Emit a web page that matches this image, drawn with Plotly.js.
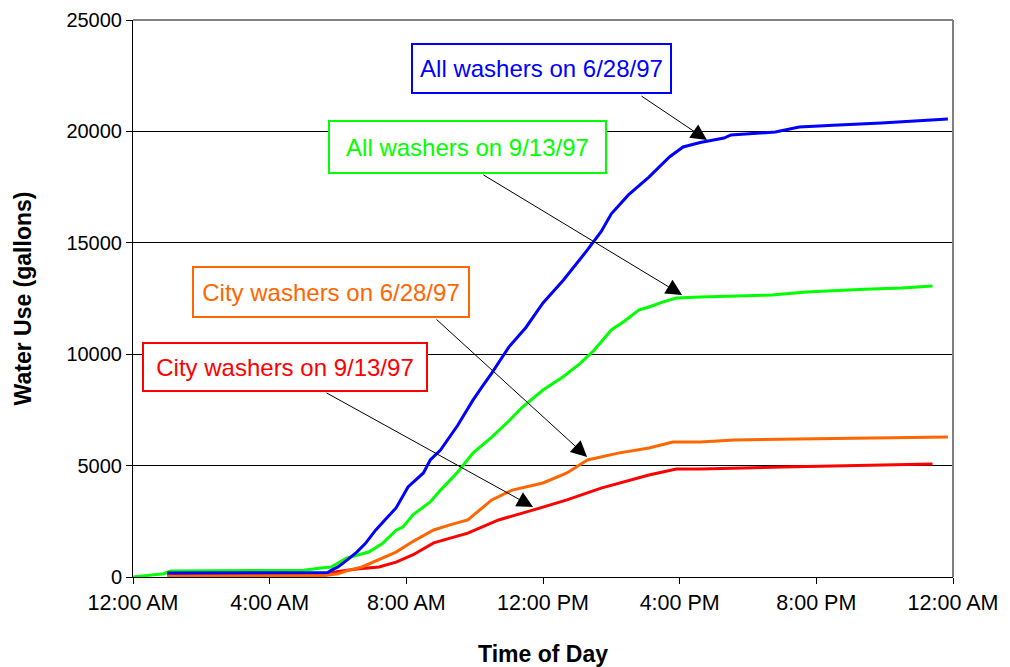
<!DOCTYPE html>
<html>
<head>
<meta charset="utf-8">
<script src="https://cdn.plot.ly/plotly-3.0.1.min.js"></script>
<style>
  html, body { margin: 0; padding: 0; background: #fff; }
  #chart { width: 1010px; height: 667px; }
</style>
</head>
<body>
<div id="chart"></div>
<script>
// Hours after midnight
const tickHours = [0, 4, 8, 12, 16, 20, 24];
const tickLabels = ["12:00 AM", "4:00 AM", "8:00 AM", "12:00 PM", "4:00 PM", "8:00 PM", "12:00 AM"];

// All washers on 6/28/97 (blue)
const allJuneHours = [1.0, 5.7, 5.8, 6.0, 6.3, 6.55, 6.8, 7.1, 7.4, 7.7, 8.05, 8.5, 8.7, 9.0, 9.5, 9.95, 10.2, 10.5, 11.0, 11.5, 12.0, 12.6, 13.3, 13.7, 14.0, 14.5, 15.1, 15.7, 16.1, 16.6, 17.3, 17.5, 18.8, 19.5, 20.5, 21.9, 23.85];
const allJuneUse   = [180, 200, 300, 450, 800, 1120, 1500, 2100, 2600, 3100, 4040, 4670, 5250, 5700, 6800, 7940, 8500, 9150, 10320, 11200, 12300, 13330, 14680, 15500, 16300, 17150, 17950, 18850, 19300, 19500, 19700, 19840, 19970, 20200, 20280, 20380, 20560];

// All washers on 9/13/97 (green)
const allSeptHours = [0, 0.5, 0.9, 1.1, 5.0, 5.5, 5.8, 6.25, 6.9, 7.3, 7.7, 7.9, 8.2, 8.7, 9.0, 9.5, 9.95, 10.5, 11.0, 11.4, 12.0, 12.6, 13.1, 13.5, 14.0, 14.4, 14.8, 15.1, 15.5, 15.9, 16.6, 18.7, 19.7, 21.4, 22.5, 23.4];
const allSeptUse   = [0, 100, 150, 270, 300, 400, 450, 850, 1120, 1500, 2100, 2240, 2800, 3370, 3900, 4700, 5560, 6280, 7000, 7630, 8390, 9000, 9600, 10190, 11090, 11500, 11980, 12120, 12340, 12520, 12570, 12660, 12790, 12920, 12970, 13060];

// City washers on 6/28/97 (orange)
const cityJuneHours = [1.0, 5.6, 6.0, 6.3, 6.7, 7.2, 7.7, 8.2, 8.8, 9.3, 9.8, 10.5, 11.1, 12.0, 12.7, 13.3, 14.2, 15.1, 15.8, 16.6, 17.6, 20.0, 23.85];
const cityJuneUse   = [50, 60, 150, 300, 450, 800, 1120, 1600, 2110, 2350, 2560, 3460, 3900, 4220, 4670, 5250, 5560, 5790, 6060, 6060, 6150, 6200, 6280];

// City washers on 9/13/97 (red)
const citySeptHours = [1.0, 5.6, 6.0, 6.55, 7.2, 7.7, 8.2, 8.8, 9.8, 10.7, 11.7, 12.7, 13.7, 14.6, 15.1, 15.9, 16.6, 19.0, 23.4];
const citySeptUse   = [100, 120, 250, 360, 450, 670, 1000, 1530, 1970, 2560, 3000, 3460, 3990, 4350, 4580, 4850, 4850, 4940, 5070];

const seriesNames = ["All washers on 6/28/97", "All washers on 9/13/97", "City washers on 6/28/97", "City washers on 9/13/97"];
const seriesColors = ["#0000FF", "#00FF00", "#FF6600", "#FF0000"];

const FONT = "Liberation Sans, Arial, sans-serif";

function line(x, y, color, name) {
  return { x: x, y: y, type: "scatter", mode: "lines", name: name,
           line: { color: color, width: 3 }, hoverinfo: "skip" };
}

const data = [
  line(citySeptHours, citySeptUse, seriesColors[3], seriesNames[3]),
  line(cityJuneHours, cityJuneUse, seriesColors[2], seriesNames[2]),
  line(allSeptHours, allSeptUse, seriesColors[1], seriesNames[1]),
  line(allJuneHours, allJuneUse, seriesColors[0], seriesNames[0])
];

// label boxes: [center hour, center value, width px, height px]
const boxes = [
  [11.955, 22820, 257, 47],
  [9.79, 19300, 275, 50],
  [5.795, 12790, 274, 48],
  [4.45, 9425, 282, 46]
];
// arrows: [tail hour, tail value, head hour, head value]
const arrows = [
  [14.84, 21630, 16.80, 19610],
  [10.21, 18090, 16.07, 12660],
  [8.84, 11620, 13.29, 5390],
  [5.62, 8300, 11.71, 3140]
];

const annotations = [];
arrows.forEach(a => {
  annotations.push({
    x: a[2], y: a[3], xref: "x", yref: "y",
    ax: a[0], ay: a[1], axref: "x", ayref: "y",
    text: "", showarrow: true, arrowhead: 2, arrowsize: 3.2, arrowwidth: 1,
    arrowcolor: "#000", standoff: 0, startstandoff: 0
  });
});
boxes.forEach((b, i) => {
  annotations.push({
    x: b[0], y: b[1], xref: "x", yref: "y", xanchor: "center", yanchor: "middle",
    text: seriesNames[i], showarrow: false,
    font: { family: FONT, size: 24, color: seriesColors[i] },
    bgcolor: "#fff", bordercolor: seriesColors[i], borderwidth: 2, borderpad: 0,
    width: b[2], height: b[3], align: "center", valign: "middle"
  });
});

const layout = {
  width: 1010, height: 667,
  margin: { l: 133, r: 57, t: 20, b: 90 },
  paper_bgcolor: "#fff", plot_bgcolor: "#fff",
  showlegend: false,
  font: { family: FONT, color: "#000" },
  xaxis: {
    range: [0, 24], tickmode: "array", tickvals: tickHours, ticktext: tickLabels,
    ticks: "outside", ticklen: 6, tickcolor: "#000", tickwidth: 1,
    showline: true, linecolor: "#000", linewidth: 1,
    showgrid: false, zeroline: false,
    tickfont: { family: FONT, size: 21.5, color: "#000" },
    title: { text: "Time of Day", font: { family: FONT, size: 23, color: "#000", weight: "bold" }, standoff: 36 }
  },
  yaxis: {
    range: [0, 25000], tickmode: "array", tickvals: [0, 5000, 10000, 15000, 20000, 25000],
    ticktext: ["0", "5000", "10000", "15000", "20000", "25000"],
    ticks: "outside", ticklen: 6, tickcolor: "#000", tickwidth: 1,
    showline: true, linecolor: "#000", linewidth: 1,
    showgrid: true, gridcolor: "#000", gridwidth: 1, zeroline: false,
    tickfont: { family: FONT, size: 20, color: "#000" },
    title: { text: "Water Use (gallons)", font: { family: FONT, size: 23, color: "#000", weight: "bold" }, standoff: 28 }
  },
  shapes: [
    { type: "line", xref: "paper", yref: "paper", x0: 0, x1: 1, y0: 1, y1: 1, line: { color: "#808080", width: 2 }, layer: "above" },
    { type: "line", xref: "paper", yref: "paper", x0: 1, x1: 1, y0: 0, y1: 1, line: { color: "#808080", width: 2 }, layer: "above" }
  ],
  annotations: annotations
};

Plotly.newPlot("chart", data, layout, { displayModeBar: false, staticPlot: true });
</script>
</body>
</html>
